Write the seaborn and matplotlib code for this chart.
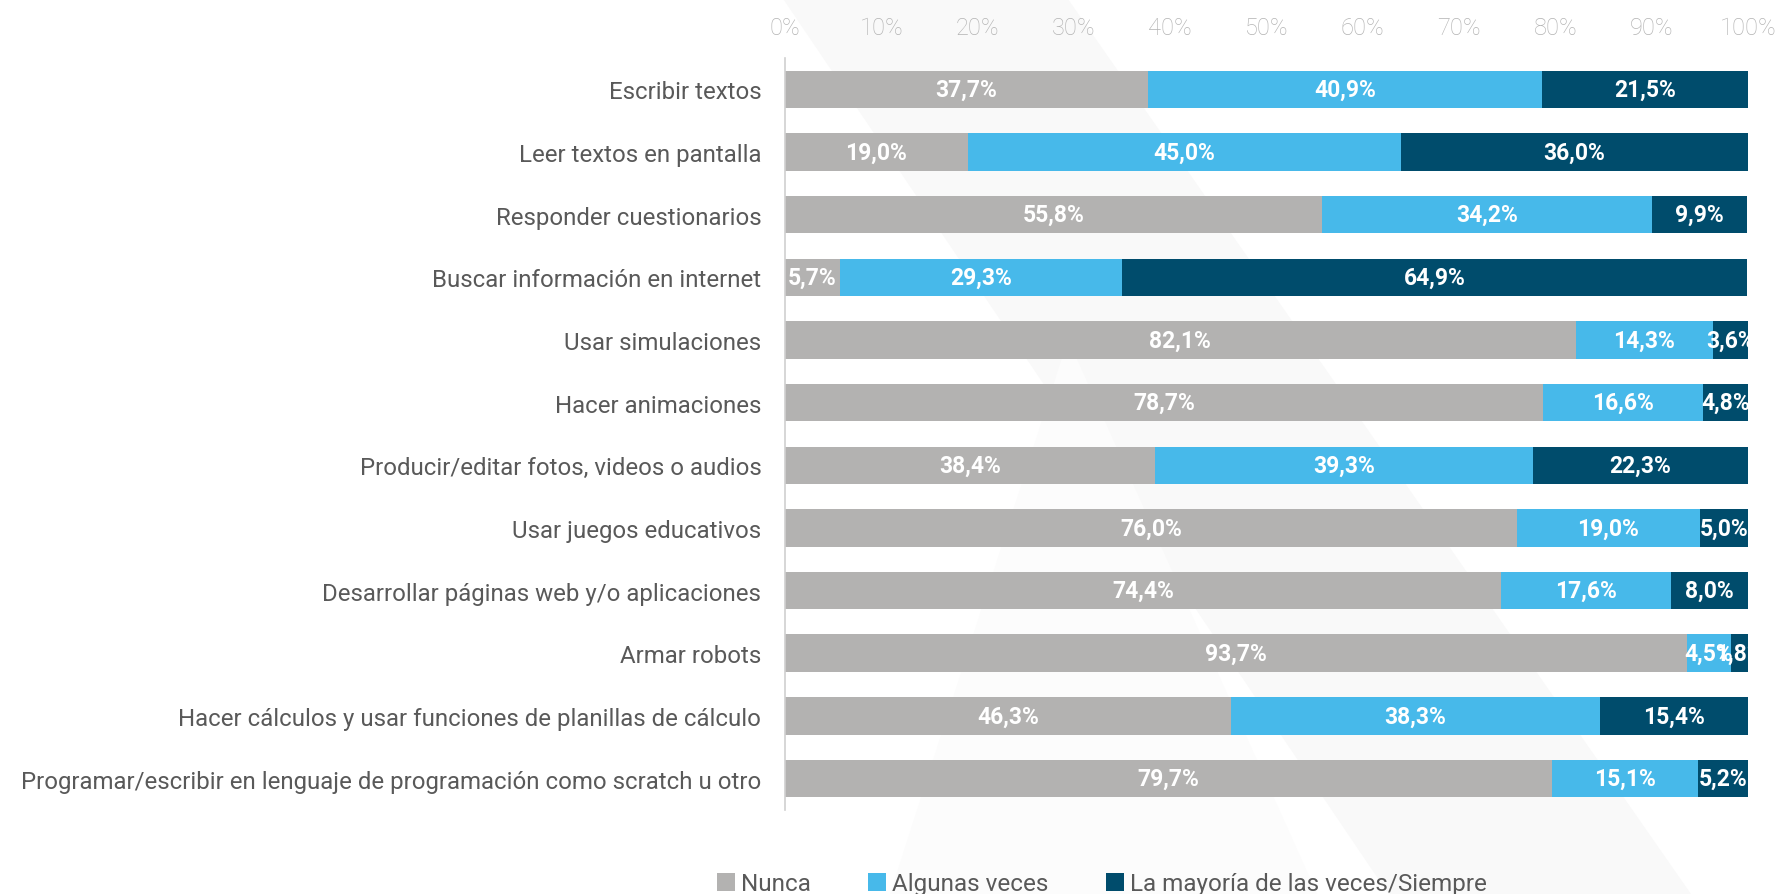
import matplotlib
matplotlib.use("Agg")
import matplotlib.pyplot as plt
from matplotlib.patches import Polygon, Patch
import numpy as np
import pandas as pd
import seaborn as sns

# Survey activities and share of answers per frequency (%)
activities = [
    "Escribir textos",
    "Leer textos en pantalla",
    "Responder cuestionarios",
    "Buscar información en internet",
    "Usar simulaciones",
    "Hacer animaciones",
    "Producir/editar fotos, videos o audios",
    "Usar juegos educativos",
    "Desarrollar páginas web y/o aplicaciones",
    "Armar robots",
    "Hacer cálculos y usar funciones de planillas de cálculo",
    "Programar/escribir en lenguaje de programación como scratch u otro",
]
nunca = [37.7, 19.0, 55.8, 5.7, 82.1, 78.7, 38.4, 76.0, 74.4, 93.7, 46.3, 79.7]
algunas = [40.9, 45.0, 34.2, 29.3, 14.3, 16.6, 39.3, 19.0, 17.6, 4.5, 38.3, 15.1]
mayoria = [21.5, 36.0, 9.9, 64.9, 3.6, 4.8, 22.3, 5.0, 8.0, 1.8, 15.4, 5.2]
series_names = ["Nunca", "Algunas veces", "La mayoría de las veces/Siempre"]
colors = ["#b3b2b1", "#47b9ea", "#004c6c"]

df = pd.DataFrame({"actividad": activities, "nunca": nunca,
                   "algunas": algunas, "mayoria": mayoria})
df["c1"] = df["nunca"]
df["c2"] = df["nunca"] + df["algunas"]
df["c3"] = df["c2"] + df["mayoria"]

sns.set_theme(style="white")
plt.rcParams["font.family"] = ["Roboto", "DejaVu Sans"]

fig = plt.figure(figsize=(17.8, 8.95), dpi=100)

# faint decorative shapes in the background
bg = fig.add_axes([0, 0, 1, 1], zorder=-5)
bg.set_xlim(0, 1); bg.set_ylim(0, 1); bg.axis("off")
bg.add_patch(Polygon([[0.44, 1.0], [0.60, 1.0], [0.95, 0.0], [0.78, 0.0]],
                     closed=True, color="#f9f9f9", lw=0))
bg.add_patch(Polygon([[0.60, 0.62], [0.74, 0.0], [0.50, 0.0]],
                     closed=True, color="#fcfcfc", lw=0))

ax = fig.add_axes([0.441, 0.094, 0.541, 0.840])
ax.patch.set_alpha(0)

# stacked bars: draw cumulative totals back to front
for col, color in zip(["c3", "c2", "c1"], colors[::-1]):
    sns.barplot(data=df, y="actividad", x=col, orient="h", color=color,
                width=0.6, saturation=1, ax=ax, edgecolor="none")

ax.set_xlim(0, 100)
ax.set_ylim(11.5, -0.5)
ax.xaxis.tick_top()
ax.set_xticks(np.arange(0, 101, 10))
ax.set_xticklabels([f"{v}%" for v in range(0, 101, 10)],
                   color="#b3b3b3", fontsize=17, fontweight="light")
ax.tick_params(axis="x", length=0, pad=14)
ax.tick_params(axis="y", length=0, pad=17, labelsize=17.3, labelcolor="#595959")
ax.set_xlabel(""); ax.set_ylabel("")
for side in ["top", "right", "bottom"]:
    ax.spines[side].set_visible(False)
ax.spines["left"].set_color("#d0d0d0")
ax.spines["left"].set_linewidth(1.2)

# value labels centred on each segment
for i in range(len(df)):
    starts = [0, df["c1"][i], df["c2"][i]]
    widths = [df["nunca"][i], df["algunas"][i], df["mayoria"][i]]
    for s, w in zip(starts, widths):
        ax.text(s + w / 2, i, f"{w:.1f}%".replace(".", ","), ha="center",
                va="center", color="white", fontsize=16.5, fontweight="bold",
                fontstretch="condensed", clip_on=True)

handles = [Patch(facecolor=c, edgecolor="none") for c in colors]
fig.legend(handles, series_names, loc="lower center",
           bbox_to_anchor=(0.619, -0.026), ncol=3, frameon=False,
           fontsize=17.5, labelcolor="#595959", handlelength=0.75,
           handleheight=0.75, handletextpad=0.25, columnspacing=2.35)

fig.savefig("out.png", dpi=100)
